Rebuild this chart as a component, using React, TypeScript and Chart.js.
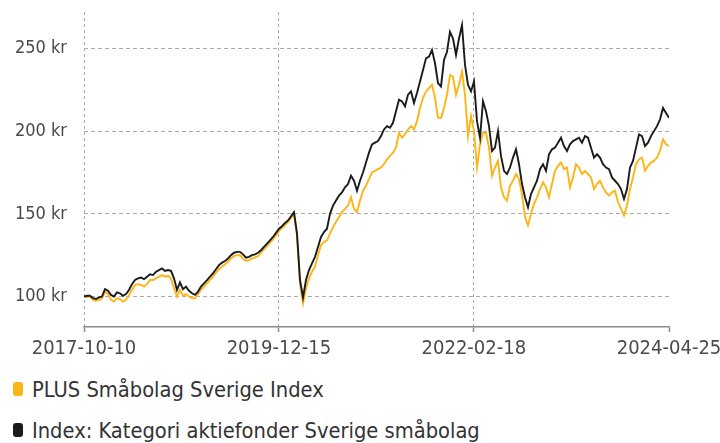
import React, { useEffect, useRef } from 'react';
import { Chart, registerables } from 'chart.js';

Chart.register(...registerables);

const tickLabels = ['2017-10-10', '2019-12-15', '2022-02-18', '2024-04-25'];
const tickDays = [0, 796, 1592, 2389];
const totalDays = 2389;
const yTicks = [100, 150, 200, 250];
const seriesNames = ['PLUS Småbolag Sverige Index', 'Index: Kategori aktiefonder Sverige småbolag'];
const seriesColors = ['#FDB515', '#1b1b1b'];

const plusValues = [
  100, 99.5, 100, 98, 97.5, 98, 99, 103, 101.5, 98,
  97, 99, 98.5, 97, 98, 101, 104, 107, 107.5, 107,
  106, 107.5, 110, 110, 111, 112, 113, 112, 112.5, 111,
  105, 100, 104, 100.5, 101.5, 100, 99, 99, 101.5, 104,
  106, 108, 110, 112, 114.5, 116.5, 118, 119.5, 121, 123,
  124.5, 125, 125, 123, 121.5, 122, 123, 123.5, 124.5, 126.5,
  128.5, 130.5, 132.5, 134.5, 137, 139.5, 141.5, 143, 145, 147.5,
  149.5, 137, 108, 96, 105, 111, 115, 118, 125, 131,
  133, 134, 138, 142, 145, 148, 151, 153, 155, 160,
  153, 151, 158, 164, 167, 171, 175, 176, 177, 178,
  180, 183, 185, 187, 190, 199, 196, 198, 201, 203,
  201, 206, 214, 220, 224, 226, 228, 220, 208, 208,
  214, 222, 234, 233, 222, 228, 236, 222, 197, 209,
  200, 178, 192, 199, 199, 190, 173, 178, 182, 166,
  160, 158, 167, 170, 174, 171, 162, 148, 143, 150,
  156, 160, 165, 169, 166, 160, 168, 176, 179, 181,
  177, 178, 166, 172, 180, 178, 174, 176, 174, 172,
  165, 168, 170, 166, 163, 161, 163, 164, 157, 153,
  149, 155, 165, 172, 180, 183, 184, 176, 179, 181,
  182, 184, 188, 195, 192, 191,
];

const categoryValues = [
  100, 100.5, 100.5, 99, 98.5, 99.5, 100, 104.5, 103.5, 101,
  100, 102.5, 102, 100.5, 101.5, 104, 107.5, 110, 111, 111.5,
  110.5, 112, 113.5, 113, 115, 116, 117, 115.5, 116, 115.5,
  111, 104, 108.5, 104.5, 106, 103.5, 102, 101, 103, 106,
  108, 110, 112, 114, 116.5, 119, 120.5, 121.5, 123, 125,
  126.5, 127, 127, 125.5, 123.5, 124, 125, 125.5, 126.5, 128,
  130, 132, 134, 136, 138.5, 141, 142.5, 144.5, 146, 148.5,
  151, 138, 110, 99.5, 110, 116, 120, 124, 130, 136,
  139, 141, 150, 155, 158, 161, 163, 166, 168, 173,
  170, 164, 170, 175, 181, 187, 192, 193, 194, 197,
  201, 203, 202, 205, 212, 219, 218, 215, 222, 224,
  217, 223, 230, 237, 244, 245, 249, 241, 229, 227,
  243, 248, 260, 256, 246, 256, 264, 240, 228, 224,
  230, 206, 196, 218, 212, 203, 188, 190, 200, 185,
  176, 174, 178, 184, 189, 180, 168, 160, 154, 162,
  166, 170, 177, 180, 176, 186, 189, 190, 193, 196,
  191, 188, 192, 194, 195, 196, 193, 197, 196, 190,
  184, 186, 184, 180, 178, 177, 172, 170, 168, 165,
  159, 165, 178, 182, 190, 198, 197, 191, 193, 197,
  200, 203, 207, 214, 211, 208,
];

const FONT = '"DejaVu Sans Condensed", "DejaVu Sans", sans-serif';

function toPoints(values: number[]) {
  return values.map((v, i) => ({ x: (i * totalDays) / (values.length - 1), y: v }));
}

export default function App() {
  const canvasRef = useRef<HTMLCanvasElement | null>(null);

  useEffect(() => {
    if (!canvasRef.current) return;
    const chart = new Chart(canvasRef.current, {
      type: 'line',
      data: {
        datasets: [
          {
            label: seriesNames[0],
            data: toPoints(plusValues),
            borderColor: seriesColors[0],
            borderWidth: 1.9,
            pointRadius: 0,
            tension: 0,
            order: 1,
          },
          {
            label: seriesNames[1],
            data: toPoints(categoryValues),
            borderColor: seriesColors[1],
            borderWidth: 1.9,
            pointRadius: 0,
            tension: 0,
            order: 0,
          },
        ],
      },
      options: {
        animation: false,
        responsive: false,
        maintainAspectRatio: false,
        layout: { padding: { top: 12, right: 51, left: 0, bottom: 0 } },
        plugins: { legend: { display: false }, tooltip: { enabled: false } },
        scales: {
          x: {
            type: 'linear',
            min: 0,
            max: totalDays,
            afterBuildTicks: (axis: any) => {
              axis.ticks = tickDays.map((v) => ({ value: v }));
            },
            afterFit: (axis: any) => {
              axis.height = 43;
              axis.paddingLeft = 0;
              axis.paddingRight = 0;
            },
            ticks: {
              callback: (_v: any, i: number) => tickLabels[i],
              maxRotation: 0,
              autoSkip: false,
              color: '#4a4a4a',
              font: { family: FONT, size: 20 },
              padding: 5,
            },
            grid: {
              color: (ctx: any) => (ctx.index === tickDays.length - 1 ? 'rgba(0,0,0,0)' : '#ababab'),
              lineWidth: 1,
              tickLength: 5,
              tickColor: '#8a8a8a',
              tickWidth: 1.5,
              drawTicks: true,
            },
            border: { display: true, color: '#8a8a8a', width: 1.5, dash: [3, 3] },
          },
          y: {
            type: 'linear',
            min: 81.6,
            max: 272,
            afterBuildTicks: (axis: any) => {
              axis.ticks = yTicks.map((v) => ({ value: v }));
            },
            afterFit: (axis: any) => {
              axis.width = 84;
              axis.paddingTop = 0;
              axis.paddingBottom = 0;
            },
            ticks: {
              callback: (v: any) => `${v} kr`,
              color: '#4a4a4a',
              font: { family: FONT, size: 18 },
              padding: 17,
            },
            grid: { drawTicks: false, color: '#ababab', lineWidth: 1 },
            border: { display: false, dash: [4, 3] },
          },
        },
      },
    } as any);
    return () => chart.destroy();
  }, []);

  return (
    <div style={{ position: 'absolute', left: 0, top: 0, width: 720, height: 443, background: '#fff', overflow: 'hidden' }}>
      <canvas ref={canvasRef} width={720} height={370} style={{ position: 'absolute', left: 0, top: 0, width: 720, height: 370 }} />
      {seriesNames.map((name, i) => (
        <div
          key={name}
          style={{
            position: 'absolute',
            left: 0,
            top: 377 + i * 41,
            height: 24,
            display: 'flex',
            alignItems: 'center',
            fontFamily: FONT,
            fontSize: 21.7,
            color: '#333',
            whiteSpace: 'nowrap',
          }}
        >
          <span
            style={{
              display: 'inline-block',
              marginLeft: 13,
              width: 10,
              height: 14,
              borderRadius: 3,
              background: seriesColors[i],
              marginRight: 9,
            }}
          />
          <span>{name}</span>
        </div>
      ))}
    </div>
  );
}
